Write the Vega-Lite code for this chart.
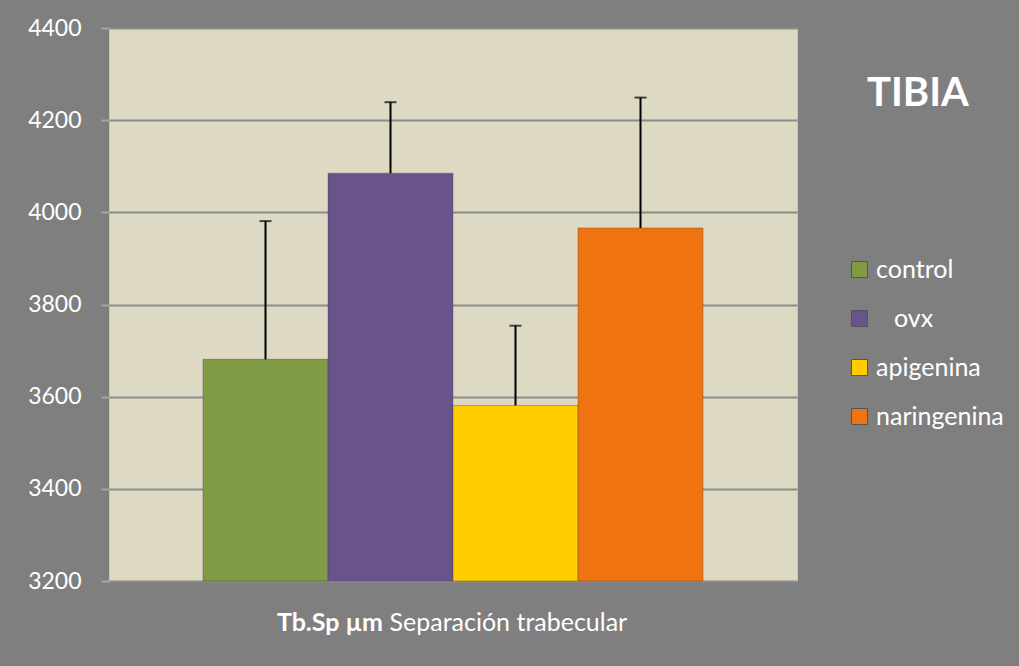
{
  "$schema": "https://vega.github.io/schema/vega-lite/v6.json",
  "width": 688,
  "height": 553,
  "autosize": {"type": "none"},
  "padding": {"left": 109, "top": 28, "right": 222, "bottom": 85},
  "background": "#7F7F7F",
  "config": {
    "font": "Lato",
    "view": {"fill": "#DDD9C3", "stroke": "#C9C5B1", "strokeWidth": 1}
  },
  "title": {
    "text": "TIBIA",
    "color": "white",
    "fontSize": 40,
    "fontWeight": "bold",
    "anchor": "start",
    "frame": "group",
    "baseline": "alphabetic",
    "offset": 0,
    "dx": 758,
    "dy": 129
  },
  "data": {
    "values": [
      {"cat": "Tb.Sp µm", "grupo": "control", "valor": 3681, "sup": 3981},
      {"cat": "Tb.Sp µm", "grupo": "ovx", "valor": 4085, "sup": 4239},
      {"cat": "Tb.Sp µm", "grupo": "apigenina", "valor": 3581, "sup": 3754},
      {"cat": "Tb.Sp µm", "grupo": "naringenina", "valor": 3966, "sup": 4249}
    ]
  },
  "encoding": {
    "x": {
      "field": "cat",
      "type": "nominal",
      "scale": {"paddingInner": 0, "paddingOuter": 0.188},
      "axis": {
        "orient": "bottom",
        "ticks": false,
        "tickSize": 0,
        "domain": false,
        "grid": false,
        "labelAngle": 0,
        "labelColor": "white",
        "labelFontWeight": "bold",
        "labelFontSize": 25,
        "labelBaseline": "alphabetic",
        "labelPadding": 49,
        "labelAlign": "right",
        "labelOffset": -70,
        "title": "Separación trabecular",
        "titleColor": "white",
        "titleFontWeight": "normal",
        "titleFontSize": 25,
        "titleAlign": "left",
        "titleBaseline": "alphabetic",
        "titleX": 280,
        "titleY": 49
      }
    },
    "xOffset": {
      "field": "grupo",
      "type": "nominal",
      "sort": ["control", "ovx", "apigenina", "naringenina"],
      "scale": {"paddingInner": 0, "paddingOuter": 0}
    }
  },
  "layer": [
    {
      "mark": {"type": "bar", "stroke": "#3a3a3a", "strokeOpacity": 0.35, "strokeWidth": 1},
      "encoding": {
        "y": {
          "field": "valor",
          "type": "quantitative",
          "scale": {"domain": [3200, 4400], "nice": false, "zero": false},
          "axis": {
            "values": [3200, 3400, 3600, 3800, 4000, 4200, 4400],
            "format": "d",
            "grid": true,
            "gridColor": "#8C8C8C",
            "gridWidth": 2,
            "domain": false,
            "ticks": true,
            "tickSize": 8,
            "tickColor": "#A6A6A6",
            "tickWidth": 2,
            "labelColor": "white",
            "labelFontSize": 23,
            "labelPadding": 20,
            "title": null
          }
        },
        "y2": {"datum": 3200},
        "color": {
          "field": "grupo",
          "type": "nominal",
          "scale": {
            "domain": ["control", "ovx", "apigenina", "naringenina"],
            "range": ["#809B43", "#68538A", "#FFCC00", "#F07311"]
          },
          "legend": {
            "orient": "none",
            "legendX": 738,
            "legendY": 229,
            "title": null,
            "symbolType": "square",
            "symbolSize": 256,
            "symbolStrokeColor": "#555555",
            "symbolStrokeWidth": 1,
            "symbolOpacity": 1,
            "labelColor": "white",
            "labelFontSize": 25,
            "labelOffset": 4,
            "rowPadding": 23,
            "labelExpr": "datum.label == 'ovx' ? '\u2800ovx' : datum.label"
          }
        }
      }
    },
    {
      "mark": {"type": "rule", "color": "black", "strokeWidth": 2},
      "encoding": {
        "y": {"field": "valor", "type": "quantitative"},
        "y2": {"field": "sup"}
      }
    },
    {
      "mark": {"type": "tick", "color": "black", "thickness": 2, "size": 12},
      "encoding": {
        "y": {"field": "sup", "type": "quantitative"}
      }
    }
  ]
}
